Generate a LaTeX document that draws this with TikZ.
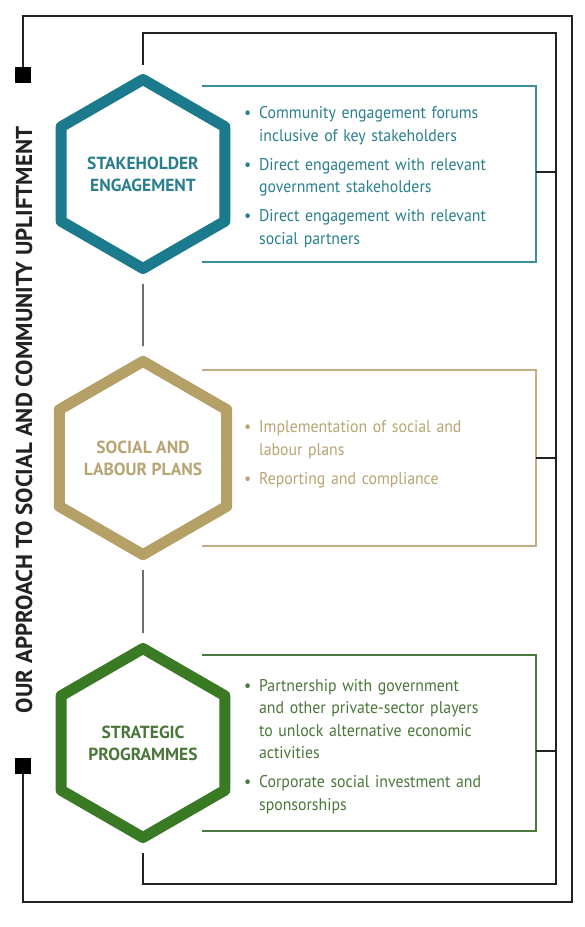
\documentclass[tikz,border=0pt]{standalone}
\usepackage{fontspec}
\setmainfont{PT Sans}
\newfontfamily\listfont[FakeStretch=0.93]{PT Sans}
\usetikzlibrary{shapes.geometric, positioning, calc}

\definecolor{tealhex}{HTML}{1B7B8C}
\definecolor{tealtext}{HTML}{2A7F8D}
\definecolor{goldhex}{HTML}{B5A168}
\definecolor{goldtext}{HTML}{B8A573}
\definecolor{greenhex}{HTML}{3A7A25}
\definecolor{greentext}{HTML}{4A7639}
\definecolor{framegray}{HTML}{222222}

\begin{document}
\begin{tikzpicture}[x=1pt, y=-1pt,
    hexa/.style={regular polygon, regular polygon sides=6, shape border rotate=30,
        minimum size=189pt, line width=11pt, line join=round, fill=white,
        inner sep=0pt, align=center, font=\fontsize{17.5}{22}\selectfont\bfseries},
    listbox/.style={minimum width=334pt, minimum height=176pt, inner xsep=42pt,
        text width=250pt, align=left, outer sep=0pt,
        font=\listfont\fontsize{17}{22.5}\selectfont},
    frame/.style={line width=1.3pt, draw=framegray},
    link/.style={frame, shorten <=9pt, shorten >=9pt}]
    \useasboundingbox (0,0) rectangle (585,927);

    % Outer frame and title
    \coordinate (outTL) at (23,16);
    \coordinate (outBR) at (572,902);
    \node[fill=black, minimum size=16pt, inner sep=0pt] (topsq) at (23,75) {};
    \node[fill=black, minimum size=16pt, inner sep=0pt] (botsq) at (23,766) {};
    \draw[frame] (topsq.north) -- (topsq.north |- outTL) -| (outBR) -| (botsq.south);
    \node[rotate=90, font=\fontsize{23}{26}\selectfont\bfseries, text=framegray] (title)
        at (24,420) {OUR APPROACH TO SOCIAL AND COMMUNITY UPLIFTMENT};

    % Lists
    \node[listbox, text=tealtext] (stakelist) at (369,177) {%
        \begin{tabular}{@{}l@{\hspace{8pt}}l@{}}
        • & Community engagement forums\\
          & inclusive of key stakeholders\\[6.5pt]
        • & Direct engagement with relevant\\
          & government stakeholders\\[6.5pt]
        • & Direct engagement with relevant\\
          & social partners
        \end{tabular}};
    \node[listbox, text=goldtext] (sociallist) at (369,461) {%
        \begin{tabular}{@{}l@{\hspace{8pt}}l@{}}
        • & Implementation of social and\\
          & labour plans\\[6.5pt]
        • & Reporting and compliance\\[14pt]
        \end{tabular}};
    \node[listbox, text=greentext] (stratlist) at (369,746) {%
        \begin{tabular}{@{}l@{\hspace{8pt}}l@{}}
        • & Partnership with government\\
          & and other private-sector players\\
          & to unlock alternative economic\\
          & activities\\[6.5pt]
        • & Corporate social investment and\\
          & sponsorships
        \end{tabular}};
    \draw[line width=1.2pt, tealhex!85] ([yshift=3pt]stakelist.north west) -- ([yshift=3pt]stakelist.north east)
        -- ([yshift=3pt]stakelist.south east) -- ([yshift=3pt]stakelist.south west);
    \draw[line width=1.2pt, goldhex!85] ([yshift=3pt]sociallist.north west) -- ([yshift=3pt]sociallist.north east)
        -- ([yshift=3pt]sociallist.south east) -- ([yshift=3pt]sociallist.south west);
    \draw[line width=1.2pt, greenhex!75!gray] ([yshift=3pt]stratlist.north west) -- ([yshift=3pt]stratlist.north east)
        -- ([yshift=3pt]stratlist.south east) -- ([yshift=3pt]stratlist.south west);

    % Hexagons
    \node[hexa, draw=tealhex, text=tealtext] (stake) at (143,174) {STAKEHOLDER\\ENGAGEMENT};
    \node[hexa, draw=goldhex, text=goldtext] (social) at (143,458) {SOCIAL AND\\LABOUR PLANS};
    \node[hexa, draw=greenhex, text=greentext] (strategic) at (143,743) {STRATEGIC\\PROGRAMMES};

    % Inner frame
    \coordinate (inTR) at (556,33);
    \coordinate (inBR) at (556,884);
    \draw[frame] ([yshift=8pt]stake.north) |- (inTR) -- (inBR) -| ([yshift=-9pt]strategic.south);
    \draw[link] (stake.south) -- (social.north);
    \draw[link] (social.south) -- (strategic.north);
    \draw[frame] ([yshift=5pt]stakelist.east) -- ([yshift=5pt]stakelist.east -| inTR);
    \draw[frame] ([yshift=3pt]sociallist.east) -- ([yshift=3pt]sociallist.east -| inTR);
    \draw[frame] ([yshift=-5pt]stratlist.east) -- ([yshift=-5pt]stratlist.east -| inTR);
\end{tikzpicture}
\end{document}
